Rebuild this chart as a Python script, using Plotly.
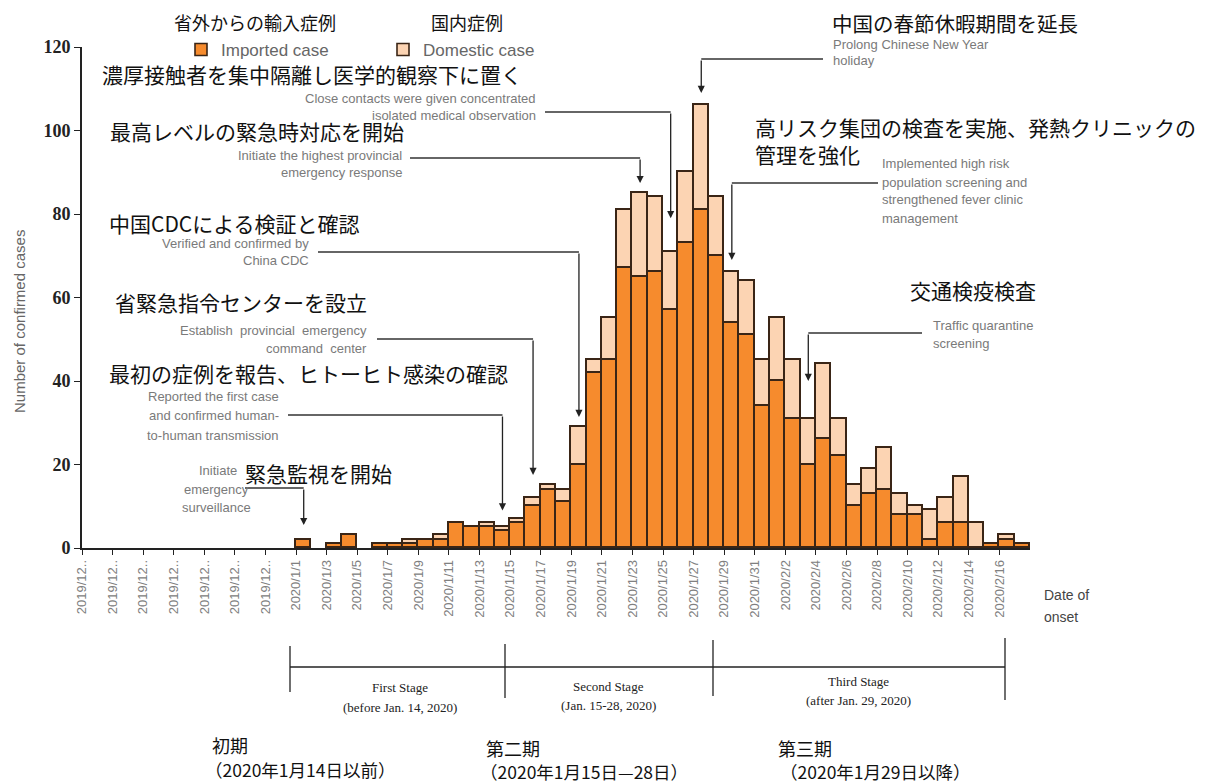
import pandas as pd
import plotly.graph_objects as go

# ---------------- data ----------------
onset_dates = [
    "2020-01-01", "2020-01-02", "2020-01-03", "2020-01-04", "2020-01-05", "2020-01-06",
    "2020-01-07", "2020-01-08", "2020-01-09", "2020-01-10", "2020-01-11", "2020-01-12",
    "2020-01-13", "2020-01-14", "2020-01-15", "2020-01-16", "2020-01-17", "2020-01-18",
    "2020-01-19", "2020-01-20", "2020-01-21", "2020-01-22", "2020-01-23", "2020-01-24",
    "2020-01-25", "2020-01-26", "2020-01-27", "2020-01-28", "2020-01-29", "2020-01-30",
    "2020-01-31", "2020-02-01", "2020-02-02", "2020-02-03", "2020-02-04", "2020-02-05",
    "2020-02-06", "2020-02-07", "2020-02-08", "2020-02-09", "2020-02-10", "2020-02-11",
    "2020-02-12", "2020-02-13", "2020-02-14", "2020-02-15", "2020-02-16", "2020-02-17",
]
imported_cases = [
    2, 0, 1, 3, 0, 1,
    1, 1, 2, 2, 6, 5,
    5, 4, 6, 10, 14, 11,
    20, 42, 45, 67, 65, 66,
    57, 73, 81, 70, 54, 51,
    34, 40, 31, 20, 26, 22,
    10, 13, 14, 8, 8, 2,
    6, 6, 0, 1, 2, 1,
]
domestic_cases = [
    0, 0, 0, 0, 0, 0,
    0, 1, 0, 1, 0, 0,
    1, 1, 1, 2, 1, 3,
    9, 3, 10, 14, 20, 18,
    14, 17, 25, 14, 12, 13,
    11, 15, 14, 11, 18, 9,
    5, 6, 10, 5, 2, 7,
    6, 11, 6, 0, 1, 0,
]
tick_dates = [
    "2019-12-18", "2019-12-20", "2019-12-22", "2019-12-24", "2019-12-26", "2019-12-28",
    "2019-12-30", "2020-01-01", "2020-01-03", "2020-01-05", "2020-01-07", "2020-01-09",
    "2020-01-11", "2020-01-13", "2020-01-15", "2020-01-17", "2020-01-19", "2020-01-21",
    "2020-01-23", "2020-01-25", "2020-01-27", "2020-01-29", "2020-01-31", "2020-02-02",
    "2020-02-04", "2020-02-06", "2020-02-08", "2020-02-10", "2020-02-12", "2020-02-14",
    "2020-02-16",
]
tick_labels = [
    "2019/12..", "2019/12..", "2019/12..", "2019/12..", "2019/12..", "2019/12..",
    "2019/12..", "2020/1/1", "2020/1/3", "2020/1/5", "2020/1/7", "2020/1/9",
    "2020/1/11", "2020/1/13", "2020/1/15", "2020/1/17", "2020/1/19", "2020/1/21",
    "2020/1/23", "2020/1/25", "2020/1/27", "2020/1/29", "2020/1/31", "2020/2/2",
    "2020/2/4", "2020/2/6", "2020/2/8", "2020/2/10", "2020/2/12", "2020/2/14",
    "2020/2/16",
]
series_names = ["Imported case", "Domestic case"]
series_names_ja = ["省外からの輸入症例", "国内症例"]
y_ticks = [0, 20, 40, 60, 80, 100, 120]

# events: target date, Japanese caption, English caption lines
event_dates = ["2020-01-25", "2020-01-23", "2020-01-19", "2020-01-16",
               "2020-01-14", "2020-01-01", "2020-01-27", "2020-01-29", "2020-02-03"]
event_ja = [
    "濃厚接触者を集中隔離し医学的観察下に置く",
    "最高レベルの緊急時対応を開始",
    "中国CDCによる検証と確認",
    "省緊急指令センターを設立",
    "最初の症例を報告、ヒトーヒト感染の確認",
    "緊急監視を開始",
    "中国の春節休暇期間を延長",
    "高リスク集団の検査を実施、発熱クリニックの<br>管理を強化",
    "交通検疫検査",
]
event_en = [
    ["Close contacts were given concentrated", "isolated medical observation"],
    ["Initiate the highest provincial", "emergency response"],
    ["Verified and confirmed by", "China CDC"],
    ["Establish  provincial  emergency", "command  center"],
    ["Reported the first case", "and confirmed human-", "to-human transmission"],
    ["Initiate", "emergency", "surveillance"],
    ["Prolong Chinese New Year", "holiday"],
    ["Implemented high risk", "population screening and", "strengthened fever clinic", "management"],
    ["Traffic quarantine", "screening"],
]
stage_en = [["First Stage", "(before Jan. 14, 2020)"],
            ["Second Stage", "(Jan. 15-28, 2020)"],
            ["Third Stage", "(after Jan. 29, 2020)"]]
stage_ja = [["初期", "（2020年1月14日以前）"],
            ["第二期", "（2020年1月15日—28日）"],
            ["第三期", "（2020年1月29日以降）"]]

# ---------------- layout geometry (page pixels; the page has an 8px body margin) ----------------
PAGE_OFF = 8
W, H = 1207 - PAGE_OFF, 783 - PAGE_OFF
PL, PT = 82, 47            # plot-area left / top in page pixels
PW, PH = 948, 501          # plot-area size
L, T = PL - PAGE_OFF, PT - PAGE_OFF
R, B = W - L - PW, H - T - PH
X0, X1 = pd.Timestamp("2019-12-18"), pd.Timestamp("2020-02-18")
YMAX = 120


def xp(px):
    return (px - PL) / PW


def yp(py):
    return (PT + PH - py) / PH


def px_date(px):
    return X0 + (X1 - X0) * ((px - PL) / PW)


def py_val(py):
    return (PT + PH - py) / PH * YMAX


JA = "Noto Sans CJK JP"
EN = "Liberation Sans"
SERIF = "Liberation Serif"
ORANGE = "#F68B2D"
PEACH = "#FCD4B3"
EDGE = "#3a2516"
GRAY = "#7a7a7a"

day = pd.Timedelta(days=1)
centers = [pd.Timestamp(d) + day / 2 for d in onset_dates]
totals = {d: a + b for d, a, b in zip(onset_dates, imported_cases, domestic_cases)}

fig = go.Figure()
fig.add_trace(go.Bar(
    x=centers, y=[v if v else None for v in imported_cases], name=series_names[0],
    width=86400000, marker=dict(color=ORANGE, line=dict(color=EDGE, width=1.6)),
))
fig.add_trace(go.Bar(
    x=centers, y=[v if v else None for v in domestic_cases], name=series_names[1],
    width=86400000, marker=dict(color=PEACH, line=dict(color=EDGE, width=1.6)),
))

ann = []
shapes = []


def text(t, px, py, size, color, family, xanchor="left"):
    ann.append(dict(text=t, x=xp(px), y=yp(py), xref="paper", yref="paper",
                    xanchor=xanchor, yanchor="middle", showarrow=False,
                    font=dict(size=size, color=color, family=family)))


# legend Japanese headers
text(series_names_ja[0], 255, 22, 18, "#111", JA, "center")
text(series_names_ja[1], 467, 22, 18, "#111", JA, "center")

# event captions: (ja_left, ja_y, ja_size, en_anchor_x, en_ys, en_xanchor, line_start_px, line_y_px, gap)
ev_layout = [
    (100, 74, 21, 538, [98, 115], "right", 545, 112, 8),
    (108, 131, 21, 404, [155, 172], "right", 410, 158, 2.4),
    (107, 223, 21, 311, [243, 261], "right", 318, 252, 2.4),
    (113, 302, 21, 369, [330, 348], "right", 377, 339, 5.5),
    (107, 373, 21, 281, [396, 415, 435], "right", 288, 415, 4),
    (243, 473, 21, 216, [471, 489, 507], "center", 245, 488, 3.5),
    (830, 23, 20.5, 831, [44, 61], "left", 823, 59, 3),
    (753, 140, 21, 880, [163, 182, 200, 218], "left", 878, 183, 3),
    (908, 290, 21, 931, [325, 343], "left", 922, 333, 9),
]
for d, ja, en, lay in zip(event_dates, event_ja, event_en, ev_layout):
    jx, jy, js, ex, eys, exa, lx, ly, gap = lay
    ann.append(dict(text=ja, x=xp(jx), y=yp(jy), xref="paper", yref="paper",
                    xanchor="left", yanchor="middle", showarrow=False, align="left",
                    font=dict(size=js, color="#111", family=JA)))
    for i, (line, ey) in enumerate(zip(en, eys)):
        xa = exa
        ex_i = ex
        if d == "2020-01-01" and i == 0:
            xa, ex_i = "right", 239
        ann.append(dict(text=line, x=xp(ex_i), y=yp(ey), xref="paper", yref="paper",
                        xanchor=xa, yanchor="middle", showarrow=False,
                        font=dict(size=13, color=GRAY, family=EN)))
    cx = pd.Timestamp(d) + day / 2
    level = py_val(ly)
    shapes.append(dict(type="line", xref="x", yref="y", x0=px_date(lx), x1=cx,
                       y0=level, y1=level, line=dict(color="#333", width=1.3)))
    ann.append(dict(text="", x=cx, y=totals[d] + gap, xref="x", yref="y",
                    ax=cx, ay=level, axref="x", ayref="y", showarrow=True,
                    arrowhead=2, arrowsize=1.1, arrowwidth=1.3, arrowcolor="#222",
                    standoff=0))

# y-axis title and x-axis end label
ann.append(dict(text="Number of confirmed cases", x=xp(19), y=yp(322), xref="paper",
                yref="paper", textangle=-90, showarrow=False, xanchor="center",
                yanchor="middle", font=dict(size=15, color="#666", family=EN)))
text("Date of", 1042, 595, 14, "#444", EN)
text("onset", 1042, 617, 14, "#444", EN)

# stage brackets
bl = dict(color="#222", width=1.3)
shapes.append(dict(type="line", xref="paper", yref="paper", x0=xp(290), x1=xp(1005),
                   y0=yp(667), y1=yp(667), line=bl))
for bx, t0, t1 in [(290, 646, 692), (505, 644, 698), (713, 640, 696), (1005, 638, 700)]:
    shapes.append(dict(type="line", xref="paper", yref="paper", x0=xp(bx), x1=xp(bx),
                       y0=yp(t0), y1=yp(t1), line=bl))
for (l1, l2), cx, y1, y2 in zip(stage_en, [400, 608, 858], [687, 686, 681], [707, 705, 700]):
    text(l1, cx, y1, 13, "#222", SERIF, "center")
    text(l2, cx, y2, 13, "#222", SERIF, "center")
for (l1, l2), x1, x2, y1, y2 in zip(stage_ja, [210, 484, 776], [203, 478, 778],
                                    [745, 748, 748], [769, 771, 771]):
    text(l1, x1, y1, 18, "#111", JA)
    text(l2, x2, y2, 17.5, "#111", JA)

fig.update_layout(
    width=W, height=H,
    margin=dict(l=L, r=R, t=T, b=B, autoexpand=False),
    paper_bgcolor="white", plot_bgcolor="white",
    barmode="stack", bargap=0,
    showlegend=True,
    legend=dict(orientation="h", x=xp(181), y=yp(50), xanchor="left", yanchor="middle",
                traceorder="normal", entrywidth=157, entrywidthmode="pixels",
                font=dict(size=17, color="#666", family=EN), bgcolor="rgba(0,0,0,0)"),
    xaxis=dict(type="date", range=[X0, X1], tickmode="array", tickvals=tick_dates,
               ticktext=tick_labels, tickangle=-90, ticks="outside", ticklen=5,
               tickcolor="#222", tickwidth=1.3, showline=True, linecolor="#222",
               linewidth=1.6, showgrid=False, zeroline=False,
               tickfont=dict(size=13, color="#808080", family=EN)),
    yaxis=dict(range=[0, YMAX], tickmode="array", tickvals=y_ticks, ticks="outside",
               ticklen=6, tickcolor="#222", tickwidth=1.3, showline=True,
               linecolor="#222", linewidth=1.6, showgrid=False, zeroline=False,
               tickfont=dict(size=18, color="#222", family=SERIF, weight="bold")),
    annotations=ann, shapes=shapes,
)

fig.write_html("out.html")
